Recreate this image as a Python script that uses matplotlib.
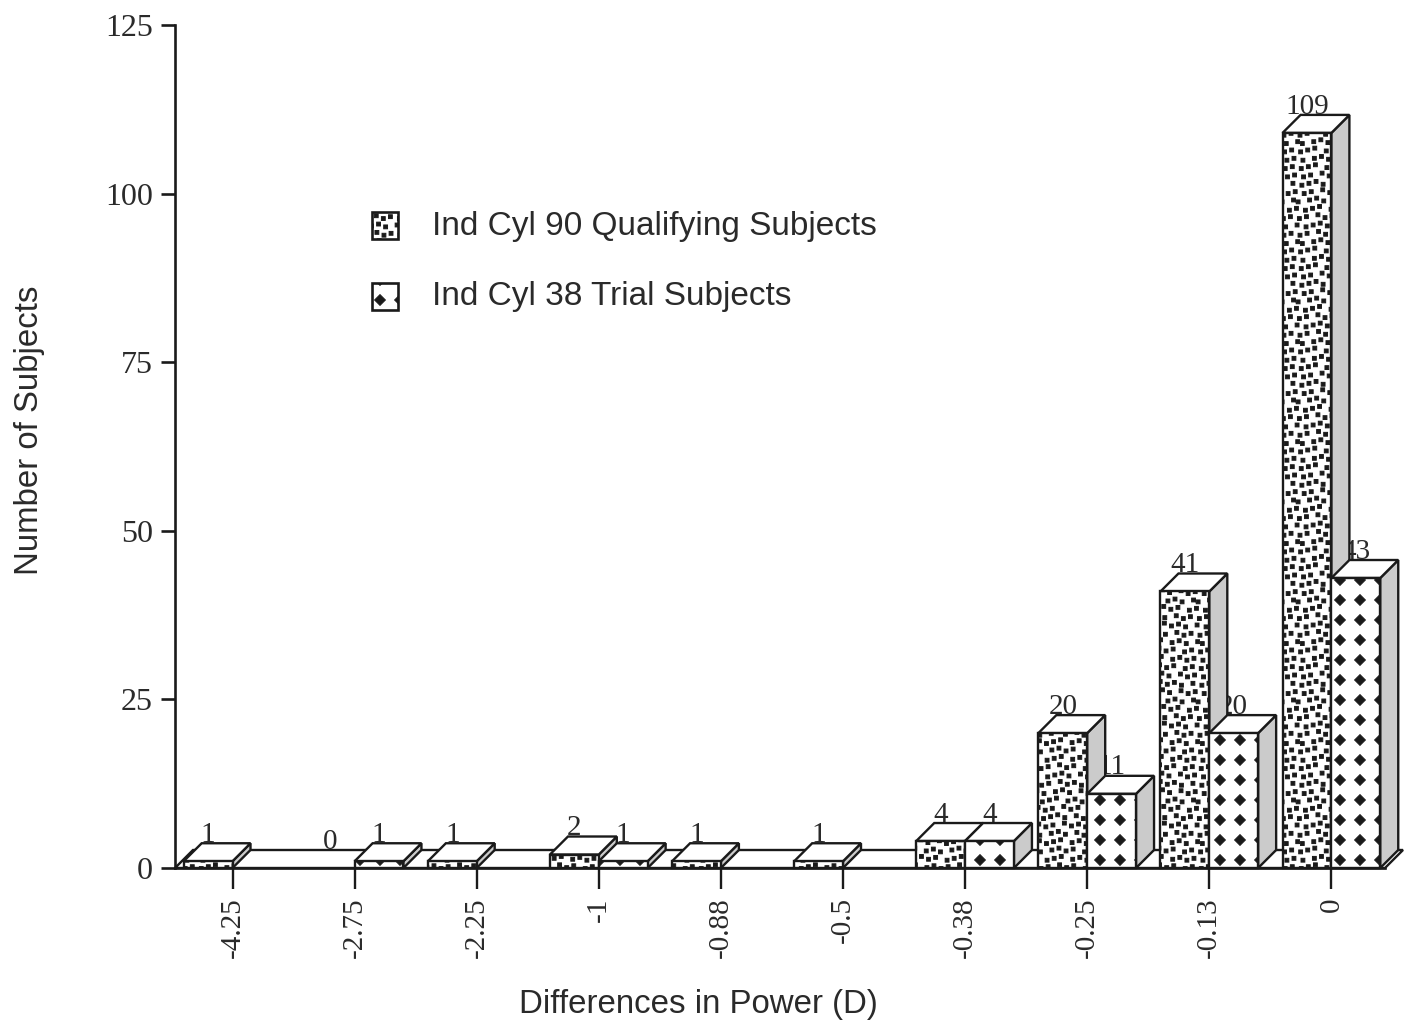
import warnings
import numpy as np
import matplotlib
matplotlib.use('Agg')
import matplotlib.pyplot as plt
import matplotlib.hatch as mhatch
from matplotlib.path import Path
from matplotlib.patches import Polygon, Rectangle

warnings.filterwarnings('ignore')

# ---------------- data ----------------
categories = ['-4.25', '-2.75', '-2.25', '-1', '-0.88', '-0.5',
              '-0.38', '-0.25', '-0.13', '0']
qualifying = [1, 0, 1, 2, 1, 1, 4, 20, 41, 109]
trial = [0, 1, 0, 1, 0, 0, 4, 11, 20, 43]
series_names = ['Ind Cyl 90 Qualifying Subjects', 'Ind Cyl 38 Trial Subjects']
y_ticks = [0, 25, 50, 75, 100, 125]
x_title = 'Differences in Power (D)'
y_title = 'Number of Subjects'


# ---------------- custom hatch textures ----------------
class _Lattice(mhatch.HatchPatternBase):
    char = '#'
    per_char = 1
    stagger = False
    half = 0.2
    jitter = 0.0
    diamond = True

    def __init__(self, hatch, density):
        self.n = hatch.count(self.char) * self.per_char
        self.pts = self._points() if self.n else []
        self.num_vertices = len(self.pts) * 5

    def _points(self):
        n = self.n
        off = 1.0 / n
        pts = []
        for r in range(n + 1):
            if self.stagger and r % 2 == 1:
                cols = [((c + 0.5) * off, c) for c in range(n)]
            else:
                cols = [(c * off, c % n) for c in range(n + 1)]
            for cx, ci in cols:
                rr = r % n
                jx = (((rr * 3 + ci * 5) % 7) / 6.0 - 0.5) * self.jitter * off
                jy = (((rr * 5 + ci * 2) % 5) / 4.0 - 0.5) * self.jitter * off
                pts.append((cx + jx, r * off + jy))
        return pts

    def set_vertices_and_codes(self, vertices, codes):
        h = self.half / self.n
        if self.diamond:
            shape = np.array([[0, -h], [h, 0], [0, h], [-h, 0], [0, -h]])
        else:
            shape = np.array([[-h, -h], [h, -h], [h, h], [-h, h], [-h, -h]])
        sc = [Path.MOVETO, Path.LINETO, Path.LINETO, Path.LINETO, Path.CLOSEPOLY]
        verts = np.concatenate([shape + np.array(p) for p in self.pts])
        cds = np.tile(sc, len(self.pts))
        vertices[:] = verts
        codes[:] = cds


class DiamondHatch(_Lattice):
    char = 'd'
    per_char = 5
    stagger = False
    half = 0.27
    diamond = True


class SpeckleHatch(_Lattice):
    char = 'k'
    per_char = 12
    stagger = True
    half = 0.23
    jitter = 0.45
    diamond = False


mhatch._hatch_types.append(DiamondHatch)
mhatch._hatch_types.append(SpeckleHatch)
plt.rcParams['hatch.linewidth'] = 0.7
plt.rcParams['hatch.color'] = 'black'

hatches = ['k', 'd']

# ---------------- layout ----------------
W, H = 1413, 1029
fig = plt.figure(figsize=(W / 100, H / 100), dpi=100)
ax_l, ax_r, ax_b, ax_t = 175, 1385, 868, 25
ax = fig.add_axes([ax_l / W, 1 - ax_b / H, (ax_r - ax_l) / W, (ax_b - ax_t) / H])
x0px, step = 232.5, 122.1
xl, xr = (ax_l - x0px) / step, (ax_r - x0px) / step
ax.set_xlim(xl, xr)
ax.set_ylim(y_ticks[0], y_ticks[-1])
ppu_y = (ax_b - ax_t) / (y_ticks[-1] - y_ticks[0])
dx = 18 / step
dy = 18 / ppu_y
bw = 0.4
lw = 1.7
ink = '#1a1a1a'
side_col = '#cbcbcb'
txt_col = '#2a2a2a'
serif = ['Liberation Serif', 'DejaVu Serif']
sans = ['Liberation Sans', 'DejaVu Sans']

# floor
floor = Polygon([(xl, 0), (xr, 0), (xr + dx, dy), (xl + dx, dy)],
                closed=True, facecolor='white', edgecolor=ink, lw=lw,
                clip_on=False, zorder=2)
ax.add_patch(floor)


def draw_bar(xleft, v, hatch, z):
    if v <= 0:
        return
    front = Rectangle((xleft, 0), bw, v, facecolor='white', edgecolor=ink,
                      hatch=hatch, lw=lw, clip_on=False, zorder=z)
    top = Polygon([(xleft, v), (xleft + bw, v), (xleft + bw + dx, v + dy),
                   (xleft + dx, v + dy)], closed=True, facecolor='white',
                  edgecolor=ink, lw=lw, clip_on=False, zorder=z)
    side = Polygon([(xleft + bw, 0), (xleft + bw + dx, dy),
                    (xleft + bw + dx, v + dy), (xleft + bw, v)], closed=True,
                   facecolor=side_col, edgecolor=ink, lw=lw, clip_on=False,
                   zorder=z)
    ax.add_patch(side)
    ax.add_patch(top)
    ax.add_patch(front)


def draw_label(xc, v, z, show):
    if not show:
        return
    ax.text(xc, v + dy + 0.2, str(v), ha='center', va='baseline',
            fontsize=21, family=serif, color=txt_col, zorder=z,
            clip_on=False)


for i, (q, t) in enumerate(zip(qualifying, trial)):
    base = 10 + 10 * i
    draw_label(i + bw / 2, t, base, t > 0)
    draw_bar(i - bw, q, hatches[0], base + 1)
    draw_label(i - bw / 2, q, base + 3, True)
    draw_bar(i, t, hatches[1], base + 4)

# axes styling
for s in ['top', 'right']:
    ax.spines[s].set_visible(False)
for s in ['left', 'bottom']:
    ax.spines[s].set_linewidth(1.9)
    ax.spines[s].set_color(ink)
    ax.spines[s].set_zorder(200)

ax.set_xticks(range(len(categories)))
ax.set_xticklabels(categories, rotation=90, fontsize=21, family=serif,
                   color=txt_col)
ax.set_yticks(y_ticks)
ax.set_yticklabels([str(v) for v in y_ticks], fontsize=23, family=serif,
                   color=txt_col)
ax.tick_params(axis='x', length=15, width=1.7, pad=6, color=ink)
ax.tick_params(axis='y', length=10, width=1.9, pad=6, color=ink)
ax.set_facecolor('none')

# axis titles
fig.text(698 / W, 1 - 1005 / H, x_title, ha='center', va='center',
         fontsize=23.8, family=sans, color=txt_col)
fig.text(30 / W, 1 - 430 / H, y_title, ha='center', va='center',
         rotation=90, fontsize=23.8, family=sans, color=txt_col)

# legend
leg_y = [226, 297]
for name, hatch, yc in zip(series_names, hatches, leg_y):
    box = Rectangle((372 / W, 1 - (yc + 13) / H), 26 / W, 27 / H,
                    transform=fig.transFigure, facecolor='white',
                    edgecolor=ink, lw=1.9, hatch=hatch)
    fig.add_artist(box)
    fig.text(432 / W, 1 - yc / H, name, ha='left', va='center',
             fontsize=24, family=sans, color=txt_col)

fig.savefig('out.png', dpi=100)
